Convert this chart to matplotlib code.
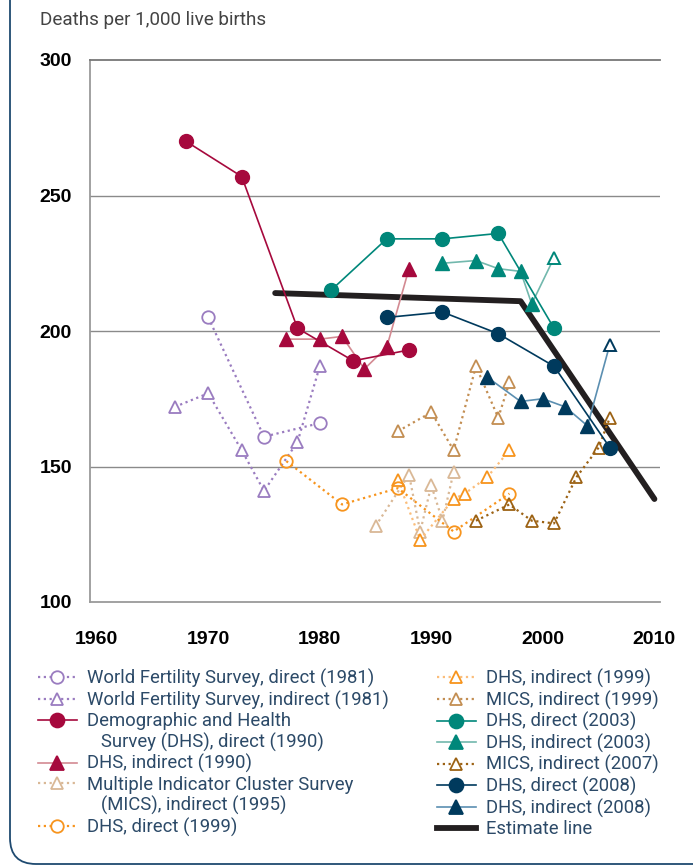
import matplotlib
matplotlib.use("Agg")
import matplotlib.pyplot as plt
from matplotlib.lines import Line2D
from matplotlib.path import Path
from matplotlib.patches import PathPatch

# ---------------- data ----------------
wfs_dir_x = [1970, 1975, 1980]
wfs_dir_y = [205, 161, 166]

wfs_ind_x = [1967, 1970, 1973, 1975, 1978, 1980]
wfs_ind_y = [172, 177, 156, 141, 159, 187]

dhs90_dir_x = [1968, 1973, 1978, 1983, 1988]
dhs90_dir_y = [270, 257, 201, 189, 193]

dhs90_ind_x = [1977, 1980, 1982, 1984, 1986, 1988]
dhs90_ind_y = [197, 197, 198, 186, 194, 223]

mics95_ind_x = [1985, 1988, 1989, 1990, 1991, 1992]
mics95_ind_y = [128, 147, 126, 143, 130, 148]

dhs99_dir_x = [1977, 1982, 1987, 1992, 1997]
dhs99_dir_y = [152, 136, 142, 126, 140]

dhs99_ind_x = [1987, 1989, 1992, 1993, 1995, 1997]
dhs99_ind_y = [145, 123, 138, 140, 146, 156]

mics99_ind_x = [1987, 1990, 1992, 1994, 1996, 1997]
mics99_ind_y = [163, 170, 156, 187, 168, 181]

dhs03_dir_x = [1981, 1986, 1991, 1996, 2001]
dhs03_dir_y = [215, 234, 234, 236, 201]

dhs03_ind_x = [1991, 1994, 1996, 1998, 1999, 2001]
dhs03_ind_y = [225, 226, 223, 222, 210, 227]

mics07_ind_x = [1994, 1997, 1999, 2001, 2003, 2005, 2006]
mics07_ind_y = [130, 136, 130, 129, 146, 157, 168]

dhs08_dir_x = [1986, 1991, 1996, 2001, 2006]
dhs08_dir_y = [205, 207, 199, 187, 157]

dhs08_ind_x = [1995, 1998, 2000, 2002, 2004, 2006]
dhs08_ind_y = [183, 174, 175, 172, 165, 195]

est_x = [1976, 1998, 2010]
est_y = [214, 211, 138]

x_ticks = [1960, 1970, 1980, 1990, 2000, 2010]
y_ticks = [100, 150, 200, 250, 300]
y_label = "Deaths per 1,000 live births"

# ---------------- colours ----------------
PURPLE = "#9a7cc0"
CRIMSON = "#a6093d"
PINK = "#d38a92"
BEIGE = "#d9b896"
ORANGE = "#f7941d"
ORANGE_L = "#fbbd7a"
TAN = "#c38e52"
TEAL = "#00877a"
TEAL_L = "#72b8ad"
BROWN = "#9c6214"
NAVY = "#003a5d"
STEEL = "#5b8fb1"
BLACK = "#231f20"
TEXTC = "#2c4a68"

plt.rcParams['font.family'] = ['Roboto', 'DejaVu Sans']

W, H = 693, 867
fig = plt.figure(figsize=(W / 100, H / 100), dpi=100)

# background frame
bg = fig.add_axes([0, 0, 1, 1], zorder=-10)
bg.set_xlim(0, W)
bg.set_ylim(H, 0)
bg.axis("off")
r = 26
verts = [(10, -5), (10, 864 - r), (10, 864), (10 + r, 864), (W + 5, 864)]
codes = [Path.MOVETO, Path.LINETO, Path.CURVE3, Path.CURVE3, Path.LINETO]
bg.add_patch(PathPatch(Path(verts, codes), fill=False, edgecolor="#1f4a70", lw=1.3))

ax = fig.add_axes([90 / W, 1 - 602 / H, 570 / W, 542 / H])
ax.set_xlim(1959.4, 2010.5)
ax.set_ylim(100, 300)

ax.spines["right"].set_visible(False)
for s in ["left", "bottom", "top"]:
    ax.spines[s].set_color("#9a9a9a")
    ax.spines[s].set_linewidth(1.3)
ax.spines["top"].set_color("#777777")
for yv in y_ticks[1:-1]:
    ax.axhline(yv, color="#8a8a8a", lw=1.0, zorder=1)

ax.set_xticks(x_ticks)
ax.set_yticks(y_ticks)
tickfont = dict(family=['Liberation Sans Narrow', 'Liberation Sans', 'DejaVu Sans'], weight='bold', size=14)
ax.set_xticklabels([str(v) for v in x_ticks], **tickfont)
ax.set_yticklabels([str(v) for v in y_ticks], **tickfont)
ax.tick_params(axis="both", length=0)
ax.tick_params(axis="x", pad=21)
ax.tick_params(axis="y", pad=13)

fig.text(40 / W, 1 - 20 / H, y_label, fontsize=13.6, color="#444444", va="center", ha="left")

dot = (0, (1, 1.6))
lw_d = 1.6
lw_s = 1.2
ms_o = 9
ms_f = 10

# estimate line
ax.plot(est_x, est_y, color=BLACK, lw=4.2, solid_capstyle="round", zorder=3)

h_wfs_d, = ax.plot(wfs_dir_x, wfs_dir_y, ls=dot, lw=lw_d, color=PURPLE, marker="o", ms=ms_o,
                   mfc="white", mec=PURPLE, mew=1.3, zorder=4)
h_wfs_i, = ax.plot(wfs_ind_x, wfs_ind_y, ls=dot, lw=lw_d, color=PURPLE, marker="^", ms=ms_o,
                   mfc="white", mec=PURPLE, mew=1.3, zorder=4)
h_mics95, = ax.plot(mics95_ind_x, mics95_ind_y, ls=dot, lw=lw_d, color=BEIGE, marker="^", ms=ms_o,
                    mfc="white", mec=BEIGE, mew=1.3, zorder=4)
h_dhs99_i, = ax.plot(dhs99_ind_x, dhs99_ind_y, ls=dot, lw=lw_d, color=ORANGE_L, marker="^", ms=ms_o,
                     mfc="white", mec=ORANGE, mew=1.3, zorder=4)
h_dhs99_d, = ax.plot(dhs99_dir_x, dhs99_dir_y, ls=dot, lw=lw_d, color=ORANGE, marker="o", ms=ms_o,
                     mfc="none", mec=ORANGE, mew=1.3, zorder=4)
h_mics99, = ax.plot(mics99_ind_x, mics99_ind_y, ls=dot, lw=lw_d, color=TAN, marker="^", ms=ms_o,
                    mfc="white", mec=TAN, mew=1.3, zorder=4)
h_mics07, = ax.plot(mics07_ind_x, mics07_ind_y, ls=dot, lw=lw_d, color=BROWN, marker="^", ms=ms_o,
                    mfc="none", mec=BROWN, mew=1.3, zorder=4)

h_dhs90_i, = ax.plot(dhs90_ind_x, dhs90_ind_y, ls="-", lw=lw_s, color=PINK, marker="^", ms=ms_f,
                     mfc=CRIMSON, mec=CRIMSON, zorder=5)
h_dhs90_d, = ax.plot(dhs90_dir_x, dhs90_dir_y, ls="-", lw=lw_s, color=CRIMSON, marker="o", ms=ms_f,
                     mfc=CRIMSON, mec=CRIMSON, zorder=5)

h_dhs03_i, = ax.plot(dhs03_ind_x, dhs03_ind_y, ls="-", lw=lw_s, color=TEAL_L, marker="^", ms=ms_f,
                     mfc=TEAL, mec=TEAL, markevery=list(range(len(dhs03_ind_x) - 1)), zorder=5)
ax.plot(dhs03_ind_x[-1:], dhs03_ind_y[-1:], ls="none", marker="^", ms=ms_o, mfc="white",
        mec=TEAL, mew=1.4, zorder=5)
h_dhs03_d, = ax.plot(dhs03_dir_x, dhs03_dir_y, ls="-", lw=lw_s, color=TEAL, marker="o", ms=ms_f,
                     mfc=TEAL, mec=TEAL, zorder=5)

h_dhs08_i, = ax.plot(dhs08_ind_x, dhs08_ind_y, ls="-", lw=lw_s, color=STEEL, marker="^", ms=ms_f,
                     mfc=NAVY, mec=NAVY, markevery=list(range(len(dhs08_ind_x) - 1)), zorder=5)
ax.plot(dhs08_ind_x[-1:], dhs08_ind_y[-1:], ls="none", marker="^", ms=ms_o, mfc="white",
        mec=NAVY, mew=1.4, zorder=5)
h_dhs08_d, = ax.plot(dhs08_dir_x, dhs08_dir_y, ls="-", lw=lw_s, color=NAVY, marker="o", ms=ms_f,
                     mfc=NAVY, mec=NAVY, zorder=5)

# legend
def key(color, marker, ls, mfc, mec, ms):
    return Line2D([], [], color=color, ls=ls, lw=lw_d if ls != "-" else lw_s, marker=marker,
                  ms=ms, mfc=mfc, mec=mec, mew=1.3)

blank = Line2D([], [], ls="none")
handles = [
    key(PURPLE, "o", dot, "white", PURPLE, ms_o),
    key(PURPLE, "^", dot, "white", PURPLE, ms_o),
    key(CRIMSON, "o", "-", CRIMSON, CRIMSON, ms_f),
    blank,
    key(PINK, "^", "-", CRIMSON, CRIMSON, ms_f),
    key(BEIGE, "^", dot, "white", BEIGE, ms_o),
    blank,
    key(ORANGE, "o", dot, "white", ORANGE, ms_o),
    key(ORANGE_L, "^", dot, "white", ORANGE, ms_o),
    key(TAN, "^", dot, "white", TAN, ms_o),
    key(TEAL, "o", "-", TEAL, TEAL, ms_f),
    key(TEAL_L, "^", "-", TEAL, TEAL, ms_f),
    key(BROWN, "^", dot, "white", BROWN, ms_o),
    key(NAVY, "o", "-", NAVY, NAVY, ms_f),
    key(STEEL, "^", "-", NAVY, NAVY, ms_f),
    Line2D([], [], color=BLACK, lw=4.2),
]
labels = [
    "World Fertility Survey, direct (1981)",
    "World Fertility Survey, indirect (1981)",
    "Demographic and Health",
    "   Survey (DHS), direct (1990)",
    "DHS, indirect (1990)",
    "Multiple Indicator Cluster Survey",
    "   (MICS), indirect (1995)",
    "DHS, direct (1999)",
    "DHS, indirect (1999)",
    "MICS, indirect (1999)",
    "DHS, direct (2003)",
    "DHS, indirect (2003)",
    "MICS, indirect (2007)",
    "DHS, direct (2008)",
    "DHS, indirect (2008)",
    "Estimate line",
]
leg = fig.legend(handles, labels, ncol=2, loc="upper left", bbox_to_anchor=(38 / W, 1 - 669 / H),
                 frameon=False, fontsize=13.3, labelcolor=TEXTC, handlelength=2.1,
                 handletextpad=0.55, columnspacing=2.6, labelspacing=0.13, borderaxespad=0,
                 borderpad=0)

fig.savefig("out.png", dpi=100)
